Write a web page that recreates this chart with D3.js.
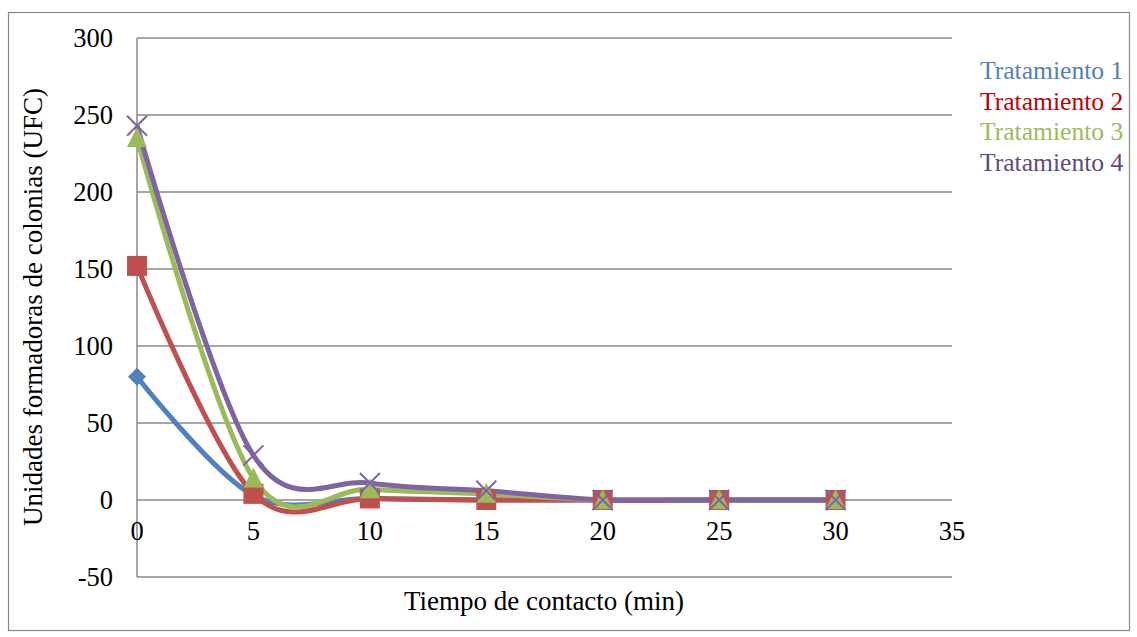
<!DOCTYPE html>
<html>
<head>
<meta charset="utf-8">
<script src="https://cdn.jsdelivr.net/npm/d3@7"></script>
<style>
  body { margin: 0; background: #fff; }
</style>
</head>
<body>
<div id="chart"></div>
<script>
var tiempos = [0, 5, 10, 15, 20, 25, 30];
var tratamiento1 = [80, 3, 1, 0, 0, 0, 0];
var tratamiento2 = [152, 4, 1, 0, 0, 0, 0];
var tratamiento3 = [235, 14, 7, 4, 0, 0, 0];
var tratamiento4 = [243, 29, 11, 6, 0, 0, 0];
var nombres = ['Tratamiento 1', 'Tratamiento 2', 'Tratamiento 3', 'Tratamiento 4'];
var xTicks = [0, 5, 10, 15, 20, 25, 30, 35];
var yTicks = [-50, 0, 50, 100, 150, 200, 250, 300];

var w = 1137, h = 637;
var colores = ['#4F81BD', '#C0504D', '#9BBB59', '#8064A2'];
var coloresLeyenda = ['#4F81BD', '#C00000', '#9BBB59', '#604A7B'];
var marcas = ['diamond', 'square', 'triangle', 'x'];
var fuente = 'Times New Roman, Liberation Serif, DejaVu Serif, serif';

var svg = d3.select('#chart').append('svg')
  .attr('width', w).attr('height', h)
  .attr('font-family', fuente);

// marco exterior
svg.append('rect')
  .attr('x', 8.5).attr('y', 12.5)
  .attr('width', 1121).attr('height', 618)
  .attr('fill', 'none').attr('stroke', '#898989').attr('stroke-width', 1.2);

var x = d3.scaleLinear().domain([0, 35]).range([137, 952]);
var y = d3.scaleLinear().domain([-50, 300]).range([577, 38]);

// lineas de cuadricula
svg.selectAll('line.grid')
  .data(yTicks)
  .enter()
  .append('line')
  .attr('class', 'grid')
  .attr('x1', x(0)).attr('x2', x(35))
  .attr('y1', function(d) { return y(d); })
  .attr('y2', function(d) { return y(d); })
  .attr('stroke', '#888').attr('stroke-width', 1.5);

// eje vertical
svg.append('line')
  .attr('x1', x(0)).attr('x2', x(0))
  .attr('y1', y(300)).attr('y2', y(-50))
  .attr('stroke', '#888').attr('stroke-width', 1.5);

// etiquetas eje y
svg.selectAll('text.ytick')
  .data(yTicks)
  .enter()
  .append('text')
  .attr('class', 'ytick')
  .attr('x', 113)
  .attr('y', function(d) { return y(d) + 9; })
  .attr('text-anchor', 'end')
  .attr('font-size', 26.5)
  .text(function(d) { return d; });

// etiquetas eje x
svg.selectAll('text.xtick')
  .data(xTicks)
  .enter()
  .append('text')
  .attr('class', 'xtick')
  .attr('x', function(d) { return x(d); })
  .attr('y', y(0) + 40)
  .attr('text-anchor', 'middle')
  .attr('font-size', 26.5)
  .text(function(d) { return d; });

svg.append('text')
  .attr('x', 544).attr('y', 610)
  .attr('text-anchor', 'middle')
  .attr('font-size', 27)
  .text('Tiempo de contacto (min)');

svg.append('text')
  .attr('transform', 'translate(42,307) rotate(-90)')
  .attr('text-anchor', 'middle')
  .attr('font-size', 27)
  .text('Unidades formadoras de colonias (UFC)');

var series = [tratamiento1, tratamiento2, tratamiento3, tratamiento4];

var linea = d3.line()
  .x(function(d, i) { return x(tiempos[i]); })
  .y(function(d) { return y(d); })
  .curve(d3.curveCardinal.tension(0));

series.forEach(function(s, k) {
  svg.append('path')
    .attr('d', linea(s))
    .attr('fill', 'none')
    .attr('stroke', colores[k])
    .attr('stroke-width', 5)
    .attr('stroke-linejoin', 'round');
});

series.forEach(function(s, k) {
  var g = svg.append('g');
  s.forEach(function(v, i) {
    var cx = x(tiempos[i]), cy = y(v);
    if (marcas[k] === 'diamond') {
      g.append('path')
        .attr('d', 'M' + cx + ',' + (cy - 9) + 'L' + (cx + 9) + ',' + cy + 'L' + cx + ',' + (cy + 9) + 'L' + (cx - 9) + ',' + cy + 'Z')
        .attr('fill', colores[k]);
    } else if (marcas[k] === 'square') {
      g.append('rect')
        .attr('x', cx - 10).attr('y', cy - 10)
        .attr('width', 20).attr('height', 20)
        .attr('fill', colores[k]);
    } else if (marcas[k] === 'triangle') {
      g.append('path')
        .attr('d', 'M' + cx + ',' + (cy - 11) + 'L' + (cx + 10) + ',' + (cy + 9) + 'L' + (cx - 10) + ',' + (cy + 9) + 'Z')
        .attr('fill', colores[k]);
    } else {
      g.append('path')
        .attr('d', 'M' + (cx - 10) + ',' + (cy - 10) + 'L' + (cx + 10) + ',' + (cy + 10) + 'M' + (cx + 10) + ',' + (cy - 10) + 'L' + (cx - 10) + ',' + (cy + 10))
        .attr('stroke', colores[k]).attr('stroke-width', 2);
    }
  });
});

// leyenda
svg.selectAll('text.leyenda')
  .data(nombres)
  .enter()
  .append('text')
  .attr('class', 'leyenda')
  .attr('x', 980)
  .attr('y', function(d, i) { return 79 + i * 30.7; })
  .attr('font-size', 25.6)
  .attr('fill', function(d, i) { return coloresLeyenda[i]; })
  .text(function(d) { return d; });
</script>
</body>
</html>
